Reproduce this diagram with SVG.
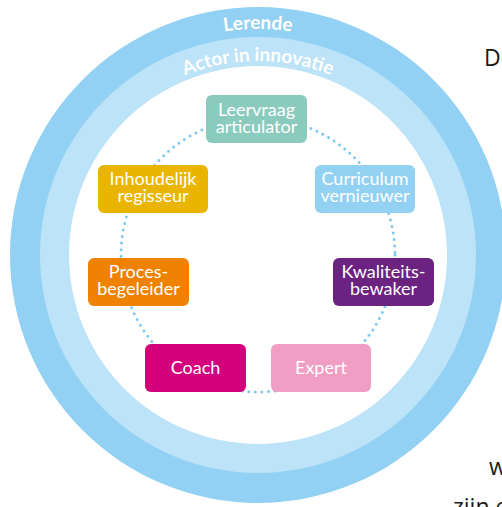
<svg xmlns="http://www.w3.org/2000/svg" width="502" height="507" viewBox="0 0 502 507">
<defs>
<style>
.lbl{font-family:Lato,"Open Sans","DejaVu Sans",sans-serif;font-size:18px;fill:#fff;text-anchor:middle}
.ring{font-family:Lato,"Open Sans",sans-serif;font-size:19px;font-weight:bold;fill:#fff;text-anchor:middle}
.body{font-family:"Open Sans","Liberation Sans",sans-serif;font-size:23px;fill:#1a1a1a}
</style>
<path id="arcOuter" d="M 32 255 A 226 226 0 0 1 484 255"/>
<path id="arcInner" d="M 62 257 A 196 196 0 0 1 454 257"/>
</defs>
<rect width="502" height="507" fill="#fff"/>
<g id="rings">
<circle cx="258" cy="255" r="248" fill="#92d1f3"/>
<circle cx="258" cy="255" r="218" fill="#bce3f7"/>
<circle cx="258" cy="255" r="189" fill="#fff"/>
<text class="ring"><textPath href="#arcOuter" startOffset="50%">Lerende</textPath></text>
<text class="ring"><textPath href="#arcInner" startOffset="50%">Actor in innovatie</textPath></text>
</g>
<g id="connectors">
<circle cx="258" cy="255" r="137" fill="none" stroke="#7fc8ef" stroke-width="3" stroke-linecap="round" stroke-dasharray="0 6.6"/>
</g>
<g id="leervraag">
<rect x="206" y="95" width="101" height="48" rx="6" fill="#8acbbe"/>
<text class="lbl" x="256.5" y="116">Leervraag<tspan x="256.5" dy="17">articulator</tspan></text>
</g>
<g id="inhoudelijk">
<rect x="98" y="165" width="110" height="48" rx="6" fill="#e9b500"/>
<text class="lbl" x="153" y="185">Inhoudelijk<tspan x="153" dy="17">regisseur</tspan></text>
</g>
<g id="curriculum">
<rect x="315" y="165" width="100" height="48" rx="6" fill="#93d1f3"/>
<text class="lbl" x="365" y="185">Curriculum<tspan x="365" dy="17">vernieuwer</tspan></text>
</g>
<g id="proces">
<rect x="88" y="258" width="101" height="48" rx="6" fill="#ef8200"/>
<text class="lbl" x="138.5" y="278">Proces-<tspan x="138.5" dy="17">begeleider</tspan></text>
</g>
<g id="kwaliteits">
<rect x="333" y="258" width="101" height="48" rx="6" fill="#6b2280"/>
<text class="lbl" x="383.5" y="278">Kwaliteits-<tspan x="383.5" dy="17">bewaker</tspan></text>
</g>
<g id="coach">
<rect x="145" y="344" width="101" height="48" rx="6" fill="#d5007b"/>
<text class="lbl" x="195.5" y="373.5">Coach</text>
</g>
<g id="expert">
<rect x="271" y="344" width="100" height="48" rx="6" fill="#f09ec4"/>
<text class="lbl" x="321" y="373.5">Expert</text>
</g>
<g id="bodytext">
<text class="body" x="484" y="66">De</text>
<text class="body" x="489" y="475">w</text>
<text class="body" x="453" y="515">zijn e</text>
</g>
</svg>
